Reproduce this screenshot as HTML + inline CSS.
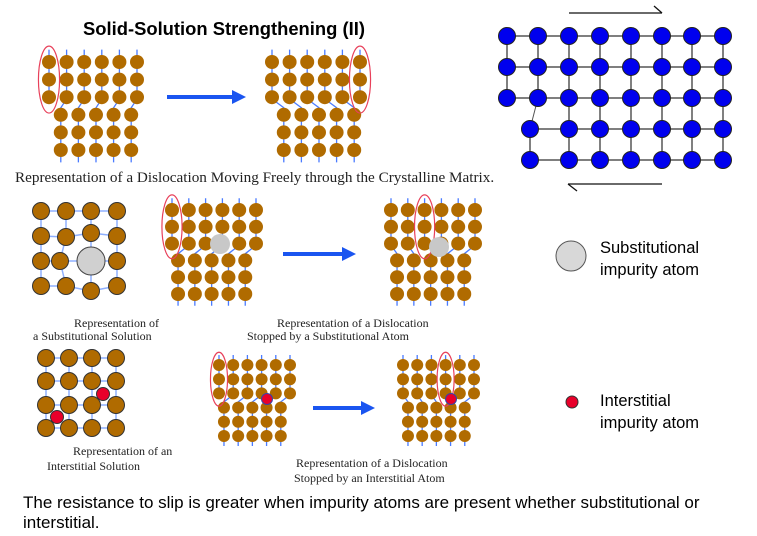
<!DOCTYPE html>
<html><head><meta charset="utf-8"><style>
html,body{margin:0;padding:0;background:#fff;}
body{width:757px;height:536px;position:relative;overflow:hidden;}
svg{position:absolute;left:0;top:0;}
.t{position:absolute;white-space:nowrap;}
.s{font-family:"Liberation Sans",sans-serif;}
.r{font-family:"Liberation Serif",serif;color:#222;}
</style></head><body>
<svg id="sv" width="757" height="536" viewBox="0 0 757 536"></svg>
<div class="t s" style="left:83px;top:18px;font-size:18.4px;font-weight:bold;">Solid-Solution Strengthening (II)</div>
<div class="t r" style="left:15px;top:169px;font-size:15.2px;">Representation of a Dislocation Moving Freely through the Crystalline Matrix.</div>
<div class="t r" style="left:74px;top:316px;font-size:12px;">Representation of</div>
<div class="t r" style="left:33px;top:329px;font-size:12px;">a Substitutional Solution</div>
<div class="t r" style="left:277px;top:316px;font-size:12px;">Representation of a Dislocation</div>
<div class="t r" style="left:247px;top:329px;font-size:12px;">Stopped by a Substitutional Atom</div>
<div class="t r" style="left:73px;top:444px;font-size:12px;">Representation of an</div>
<div class="t r" style="left:47px;top:459px;font-size:12px;">Interstitial Solution</div>
<div class="t r" style="left:296px;top:456px;font-size:12px;">Representation of a Dislocation</div>
<div class="t r" style="left:294px;top:471px;font-size:12px;">Stopped by an Interstitial Atom</div>
<div class="t s" style="left:600px;top:239px;font-size:16.5px;">Substitutional</div>
<div class="t s" style="left:600px;top:261px;font-size:16.5px;">impurity atom</div>
<div class="t s" style="left:600px;top:392px;font-size:16.5px;">Interstitial</div>
<div class="t s" style="left:600px;top:414px;font-size:16.5px;">impurity atom</div>
<div class="t s" style="left:23px;top:493px;font-size:17px;">The resistance to slip is greater when impurity atoms are present whether substitutional or</div>
<div class="t s" style="left:23px;top:513px;font-size:17px;">interstitial.</div>
<script>
var S='';
var BR='#b06b00',BL='#4a7bff',RD='#e8405a';
function c(x,y,r,f,st){S+='<circle cx="'+x+'" cy="'+y+'" r="'+r+'" fill="'+f+'"'+(st?' stroke="'+st+'" stroke-width="1"':'')+'/>';}
function l(x1,y1,x2,y2,col,w){S+='<line x1="'+x1+'" y1="'+y1+'" x2="'+x2+'" y2="'+y2+'" stroke="'+col+'" stroke-width="'+w+'"/>';}
function pl(p,col,w){S+='<polyline points="'+p+'" fill="none" stroke="'+col+'" stroke-width="'+w+'"/>';}
function blk(ox,oy,s,off,e,r){
  var ty=[oy,oy+s,oy+2*s],by=[oy+3*s,oy+4*s,oy+5*s];
  var tx=[],bx=[];for(var i=0;i<6;i++)tx.push(ox+i*s);for(i=0;i<5;i++)bx.push(ox+(off+i)*s);
  for(i=0;i<6;i++){
    var top=oy-0.7*s;
    if(i==e){l(tx[i],top,tx[i],ty[2],BL,1.3);continue;}
    var b=i<e?i:i-1;
    pl(tx[i]+','+top+' '+tx[i]+','+(ty[2]+0.1*s)+' '+bx[b]+','+(ty[2]+0.6*s)+' '+bx[b]+','+(oy+5.7*s),BL,1.3);
  }
  for(var k=0;k<3;k++){for(i=0;i<6;i++)c(tx[i],ty[k],r,BR);for(i=0;i<5;i++)c(bx[i],by[k],r,BR);}
  S+='<ellipse cx="'+tx[e]+'" cy="'+(oy+s)+'" rx="'+(0.6*s)+'" ry="'+(1.9*s)+'" fill="none" stroke="'+RD+'" stroke-width="1.2"/>';
}
blk(49,62,17.6,0.67,0,7);
blk(272,62,17.6,0.67,5,7);
blk(172,210,16.8,0.36,0,7);
c(220,244,10,'#c8c8c8');
blk(391,210,16.8,0.36,2,7);
c(439,247,10,'#c8c8c8');
blk(219,365,14.2,0.35,0,6);
c(267,399,5.5,'#e8002a','#3344aa');
blk(403,365,14.2,0.35,3,6);
c(451,399,5.5,'#e8002a','#3344aa');
function ar(x1,x2,y){l(x1,y,x2-12,y,'#1a55f0',4);S+='<polygon points="'+(x2-14)+','+(y-7)+' '+x2+','+y+' '+(x2-14)+','+(y+7)+'" fill="#1a55f0"/>';}
ar(167,246,97);ar(283,356,254);ar(313,375,408);
var P=[[[41,211],[66,211],[91,211],[117,211]],[[41,236],[66,237],[91,233],[117,236]],[[41,261],[60,261],null,[117,261]],[[41,286],[66,286],[91,291],[117,286]]];
var G=[91,261];
function gp(a,b){var p=P[a][b];return p?p:G;}
for(var a=0;a<4;a++)for(var b=0;b<4;b++){if(b<3)l(gp(a,b)[0],gp(a,b)[1],gp(a,b+1)[0],gp(a,b+1)[1],'#8fb0ff',1.5);if(a<3)l(gp(a,b)[0],gp(a,b)[1],gp(a+1,b)[0],gp(a+1,b)[1],'#8fb0ff',1.5);}
for(a=0;a<4;a++)for(b=0;b<4;b++)if(P[a][b])c(P[a][b][0],P[a][b][1],8.5,BR,'#333');
c(91,261,14,'#d0d0d0','#444');
var X=[46,69,92,116],Y=[358,381,405,428];
for(a=0;a<4;a++){l(X[0],Y[a],X[3],Y[a],'#8fb0ff',1.5);l(X[a],Y[0],X[a],Y[3],'#8fb0ff',1.5);}
for(a=0;a<4;a++)for(b=0;b<4;b++)c(X[b],Y[a],8.5,BR,'#333');
c(103,394,6.5,'#e8002a','#333');c(57,417,6.5,'#e8002a','#333');
var cx=[507,538,569,600,631,662,692,723],ry=[36,67,98,129,160];
for(a=0;a<3;a++)l(507,ry[a],723,ry[a],'#555',1.5);
for(a=3;a<5;a++)l(530,ry[a],723,ry[a],'#555',1.5);
l(507,36,507,98,'#555',1.5);l(538,36,538,98,'#555',1.5);l(538,98,530,129,'#555',1);l(530,129,530,160,'#555',1.5);
for(b=2;b<8;b++)l(cx[b],36,cx[b],160,'#555',1.5);
for(a=0;a<5;a++)for(b=0;b<8;b++){if(a>=3&&b<2){if(b==0)c(530,ry[a],8.5,'#0000ee','#222');continue;}c(cx[b],ry[a],8.5,'#0000ee','#222');}
l(569,13,662,13,'#111',1.3);l(662,13,654,6,'#111',1.3);
l(568,184,662,184,'#111',1.3);l(568,184,577,191,'#111',1.3);
c(571,256,15,'#d8d8d8','#555');
c(572,402,6,'#e8002a','#333');
document.getElementById('sv').innerHTML=S;
</script>
</body></html>
